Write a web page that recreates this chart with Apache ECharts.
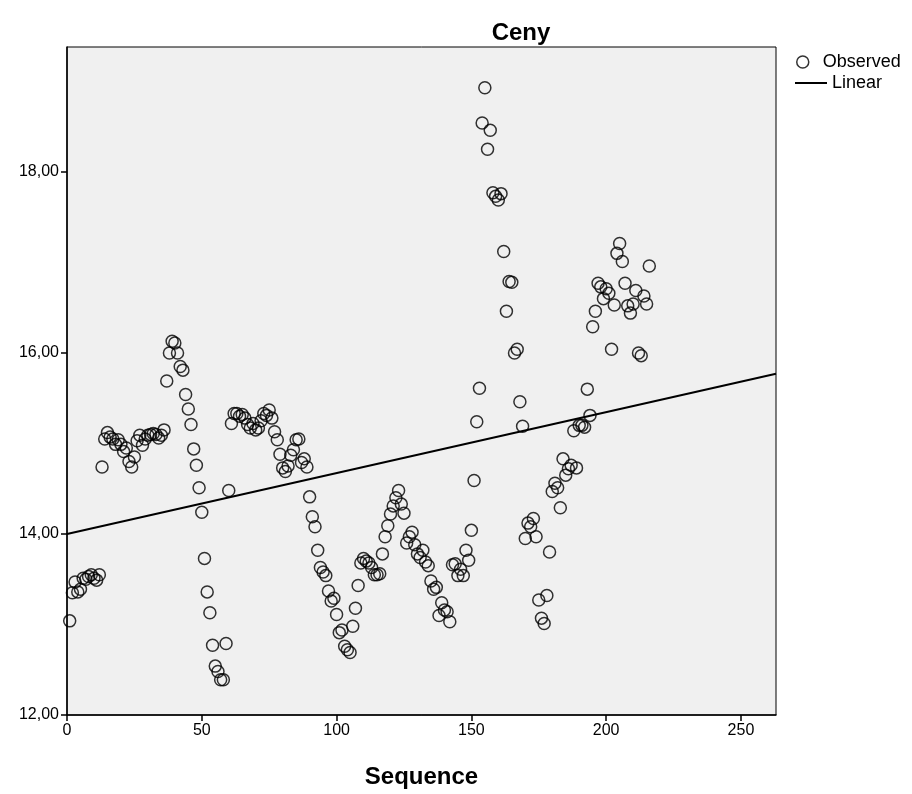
<!DOCTYPE html>
<html>
<head>
<meta charset="utf-8">
<title>Ceny</title>
<script src="https://cdn.jsdelivr.net/npm/echarts@6/dist/echarts.min.js"></script>
<style>
  html, body { margin: 0; padding: 0; background: #fff; }
  #chart { width: 912px; height: 794px; }
</style>
</head>
<body>
<div id="chart"></div>
<script>
const observed = [
  13.04, 13.35, 13.47, 13.36, 13.39, 13.51, 13.50, 13.53, 13.55, 13.51,
  13.49, 13.55, 14.74, 15.05, 15.12, 15.07, 15.05, 14.99, 15.04, 14.99,
  14.91, 14.95, 14.80, 14.74, 14.85, 15.03, 15.09, 14.98, 15.05, 15.09,
  15.10, 15.11, 15.10, 15.06, 15.09, 15.15, 15.69, 16.00, 16.13, 16.11,
  16.00, 15.85, 15.81, 15.54, 15.38, 15.21, 14.94, 14.76, 14.51, 14.24,
  13.73, 13.36, 13.13, 12.77, 12.54, 12.48, 12.39, 12.39, 12.79, 14.48,
  15.22, 15.33, 15.33, 15.30, 15.32, 15.28, 15.21, 15.17, 15.22, 15.15,
  15.17, 15.25, 15.33, 15.31, 15.37, 15.28, 15.13, 15.04, 14.88, 14.73,
  14.69, 14.75, 14.87, 14.93, 15.04, 15.05, 14.79, 14.83, 14.74, 14.41,
  14.19, 14.08, 13.82, 13.63, 13.58, 13.54, 13.37, 13.26, 13.29, 13.11,
  12.91, 12.94, 12.76, 12.72, 12.69, 12.98, 13.18, 13.43, 13.68, 13.73,
  13.70, 13.68, 13.63, 13.55, 13.55, 13.56, 13.78, 13.97, 14.09, 14.22,
  14.31, 14.40, 14.48, 14.33, 14.23, 13.90, 13.97, 14.02, 13.88, 13.78,
  13.74, 13.82, 13.69, 13.65, 13.48, 13.39, 13.41, 13.10, 13.24, 13.16,
  13.14, 13.03, 13.66, 13.67, 13.54, 13.61, 13.54, 13.82, 13.71, 14.04,
  14.59, 15.24, 15.61, 18.54, 18.93, 18.25, 18.46, 17.77, 17.73, 17.69,
  17.76, 17.12, 16.46, 16.79, 16.78, 16.00, 16.04, 15.46, 15.19, 13.95,
  14.12, 14.08, 14.17, 13.97, 13.27, 13.07, 13.01, 13.32, 13.80, 14.47,
  14.56, 14.51, 14.29, 14.83, 14.65, 14.72, 14.76, 15.14, 14.73, 15.20,
  15.20, 15.18, 15.60, 15.31, 16.29, 16.46, 16.77, 16.73, 16.60, 16.71,
  16.66, 16.04, 16.53, 17.10, 17.21, 17.01, 16.77, 16.52, 16.44, 16.54,
  16.69, 16.00, 15.97, 16.63, 16.54, 16.96
];

// linear trend, read at both ends of the x range
const linearX = [0, 263];
const linearY = [14.00, 15.77];

const xTicks = [0, 50, 100, 150, 200, 250];
const yTicks = [12, 14, 16, 18];

const font = 'Liberation Sans, Arial, sans-serif';

const chart = echarts.init(document.getElementById('chart'));

const option = {
  backgroundColor: '#fff',
  animation: false,
  title: {
    text: 'Ceny',
    left: 516,
    top: 16,
    textAlign: 'center',
    textStyle: { fontFamily: font, fontSize: 24, fontWeight: 'bold', color: '#000' }
  },
  legend: [
    {
      data: [{ name: 'Observed', icon: 'circle' }],
      orient: 'vertical',
      left: 796,
      top: 53,
      padding: 0,
      itemWidth: 30,
      itemHeight: 12,
      itemStyle: { color: 'transparent', borderColor: '#000', borderWidth: 1.5 },
      textStyle: { fontFamily: font, fontSize: 18, color: '#000' }
    },
    {
      data: [{ name: 'Linear', icon: 'rect' }],
      orient: 'vertical',
      left: 795,
      top: 74,
      padding: 0,
      itemWidth: 32,
      itemHeight: 2,
      itemStyle: { color: '#000', borderWidth: 0 },
      textStyle: { fontFamily: font, fontSize: 18, color: '#000' }
    }
  ],
  grid: {
    left: 67,
    right: 136,
    top: 47,
    bottom: 74,
    show: true,
    backgroundColor: '#f0f0f0',
    borderColor: '#000',
    borderWidth: 1
  },
  xAxis: {
    type: 'value',
    min: 0,
    max: 263,
    name: 'Sequence',
    nameLocation: 'middle',
    nameGap: 50,
    nameTextStyle: { fontFamily: font, fontSize: 24, fontWeight: 'bold', color: '#000' },
    splitLine: { show: false },
    axisLine: { show: true, onZero: false, lineStyle: { color: '#000', width: 1.5 } },
    axisTick: { show: true, length: 6, lineStyle: { color: '#000', width: 1.5 }, customValues: xTicks },
    axisLabel: { color: '#000', fontFamily: font, fontSize: 16, margin: 8, customValues: xTicks }
  },
  yAxis: {
    type: 'value',
    min: 12,
    max: 19.38,
    splitLine: { show: false },
    axisLine: { show: true, onZero: false, lineStyle: { color: '#000', width: 1.5 } },
    axisTick: { show: true, length: 6, lineStyle: { color: '#000', width: 1.5 }, customValues: yTicks },
    axisLabel: {
      color: '#000',
      fontFamily: font,
      fontSize: 16,
      margin: 8,
      customValues: yTicks,
      formatter: v => v.toFixed(2).replace('.', ',')
    }
  },
  series: [
    {
      name: 'Observed',
      type: 'scatter',
      symbol: 'circle',
      symbolSize: 12,
      itemStyle: { color: 'transparent', borderColor: '#000', borderWidth: 1.5 },
      emphasis: { disabled: true },
      data: observed.map((v, i) => [i + 1, v]),
      z: 3
    },
    {
      name: 'Linear',
      type: 'line',
      symbol: 'none',
      lineStyle: { color: '#000', width: 2 },
      itemStyle: { color: '#000' },
      data: linearX.map((x, i) => [x, linearY[i]]),
      z: 2
    }
  ]
};

chart.setOption(option);
</script>
</body>
</html>
